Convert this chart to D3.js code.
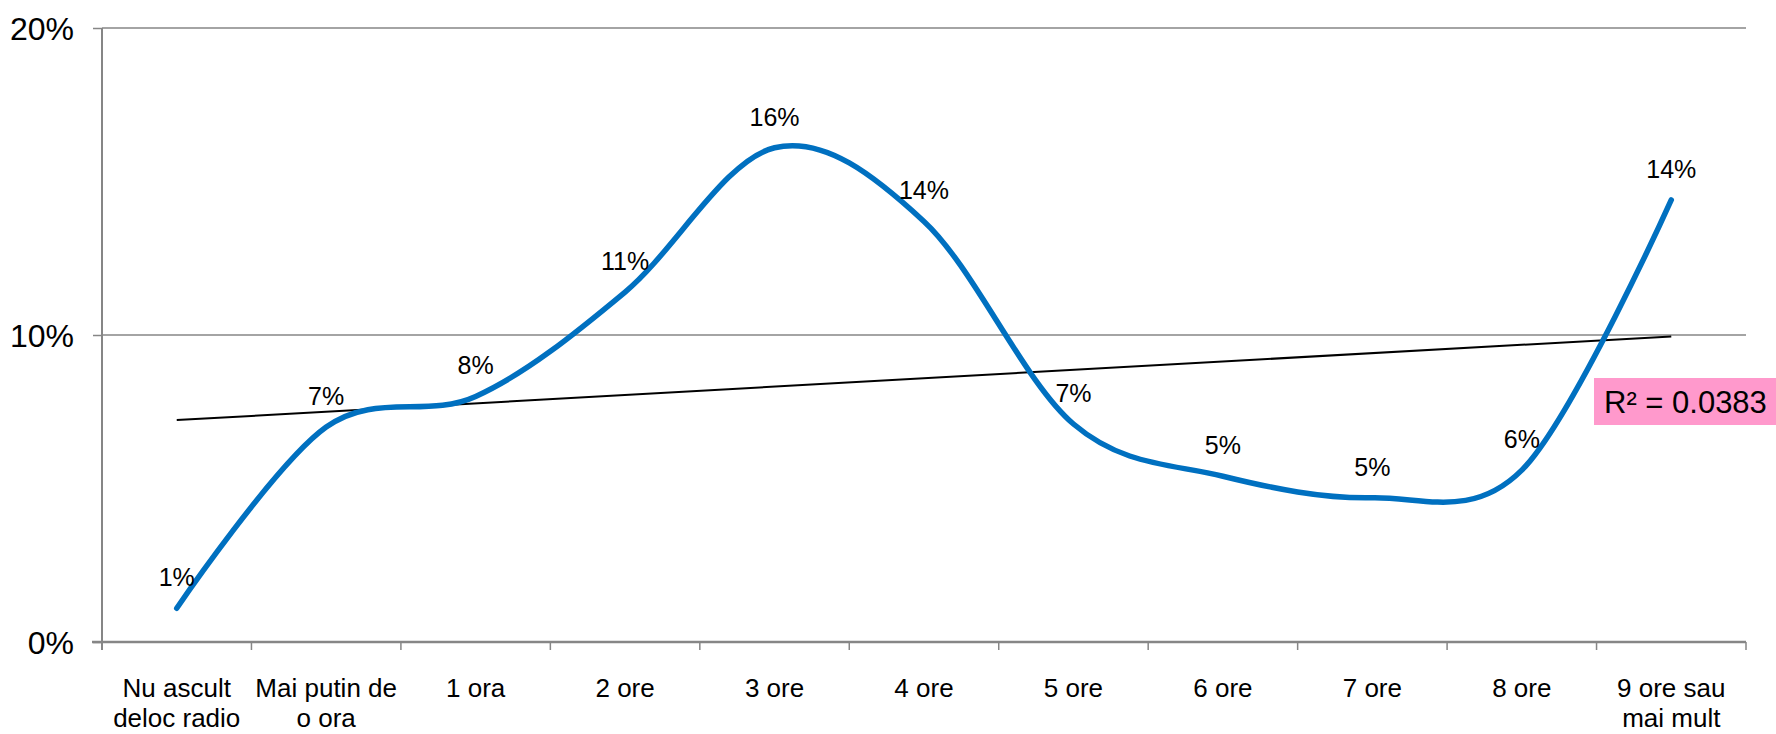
<!DOCTYPE html>
<html>
<head>
<meta charset="utf-8">
<script src="https://cdn.jsdelivr.net/npm/d3@7"></script>
<style>
  html, body { margin: 0; padding: 0; background: #fff; }
  svg { display: block; }
  text { font-family: "Liberation Sans", Arial, sans-serif; fill: #000; }
</style>
</head>
<body>
<svg id="chart" width="1776" height="734"></svg>
<script>
// ---- data ----
const categories = [
  ["Nu ascult", "deloc radio"],
  ["Mai putin de", "o ora"],
  ["1 ora"],
  ["2 ore"],
  ["3 ore"],
  ["4 ore"],
  ["5 ore"],
  ["6 ore"],
  ["7 ore"],
  ["8 ore"],
  ["9 ore sau", "mai mult"]
];
const values = [1.1, 7.0, 8.0, 11.4, 16.1, 13.7, 7.1, 5.4, 4.7, 5.6, 14.4];
const yTicks = [0, 10, 20];
const r2Label = "R\u00B2 = 0.0383";

(function () {
// ---- layout ----
const svg = d3.select("#chart");
const pLeft = 102, pRight = 1746, pTop = 28, pBottom = 642;
const grey = "#868686";

const x = d3.scaleBand().domain(d3.range(categories.length)).range([pLeft, pRight]).padding(0);
const xc = i => x(i) + x.bandwidth() / 2;
const y = d3.scaleLinear().domain([0, 20]).range([pBottom, pTop]);

// gridlines
svg.append("g").selectAll("line").data(yTicks.filter(d => d > 0)).join("line")
  .attr("x1", pLeft).attr("x2", pRight)
  .attr("y1", d => y(d)).attr("y2", d => y(d))
  .attr("stroke", grey).attr("stroke-width", 1.5);

// y axis
const yAxis = svg.append("g").attr("transform", `translate(${pLeft},0)`)
  .call(d3.axisLeft(y).tickValues(yTicks).tickSize(9).tickFormat(d => d + "%"));
yAxis.select(".domain").attr("stroke", grey).attr("stroke-width", 2)
  .attr("d", `M0,${pTop}V${pBottom + 8}`);
yAxis.selectAll(".tick line").attr("stroke", grey).attr("stroke-width", 1.5);
yAxis.selectAll(".tick text")
  .attr("x", -28).attr("dy", null).attr("y", 11)
  .style("font-size", "32px").style("font-family", "'Liberation Sans', Arial, sans-serif")
  .attr("fill", "#000");

// x axis
const xAxis = svg.append("g").attr("transform", `translate(0,${pBottom})`);
xAxis.append("line").attr("x1", pLeft - 10).attr("x2", pRight)
  .attr("y1", 0).attr("y2", 0).attr("stroke", grey).attr("stroke-width", 2.5);
const boundaries = d3.range(categories.length + 1).map(i => i < categories.length ? x(i) : pRight);
xAxis.selectAll("line.tk").data(boundaries).join("line").attr("class", "tk")
  .attr("x1", d => d).attr("x2", d => d).attr("y1", 0).attr("y2", 8)
  .attr("stroke", grey).attr("stroke-width", 1.5);

const xl = svg.append("g");
categories.forEach((lines, i) => {
  lines.forEach((t, j) => {
    xl.append("text").attr("x", xc(i)).attr("y", 697 + j * 30)
      .attr("text-anchor", "middle").style("font-size", "26px").text(t);
  });
});

// trend line (linear least squares over category index)
const n = values.length;
const xs = d3.range(1, n + 1);
const mx = d3.mean(xs), my = d3.mean(values);
const slope = d3.sum(xs.map((v, i) => (v - mx) * (values[i] - my))) / d3.sum(xs.map(v => (v - mx) ** 2));
const icpt = my - slope * mx;
svg.append("line")
  .attr("x1", xc(0)).attr("y1", y(icpt + slope * 1))
  .attr("x2", xc(n - 1)).attr("y2", y(icpt + slope * n))
  .attr("stroke", "#000").attr("stroke-width", 2);

// smoothed series line
const line = d3.line().x((d, i) => xc(i)).y(d => y(d)).curve(d3.curveCardinal.tension(0));
svg.append("path").datum(values).attr("d", line)
  .attr("fill", "none").attr("stroke", "#0070C0").attr("stroke-width", 5.5)
  .attr("stroke-linecap", "round").attr("stroke-linejoin", "round");

// data labels
svg.append("g").selectAll("text").data(values).join("text")
  .attr("x", (d, i) => xc(i)).attr("y", d => y(d) - 22)
  .attr("text-anchor", "middle").style("font-size", "25px")
  .text(d => Math.round(d) + "%");

// R² label
const r2 = svg.append("g");
r2.append("rect").attr("x", 1594).attr("y", 378).attr("width", 182).attr("height", 47)
  .attr("fill", "#FF99CC");
r2.append("text").attr("x", 1604).attr("y", 413).style("font-size", "31px").text(r2Label);
})();
</script>
</body>
</html>
